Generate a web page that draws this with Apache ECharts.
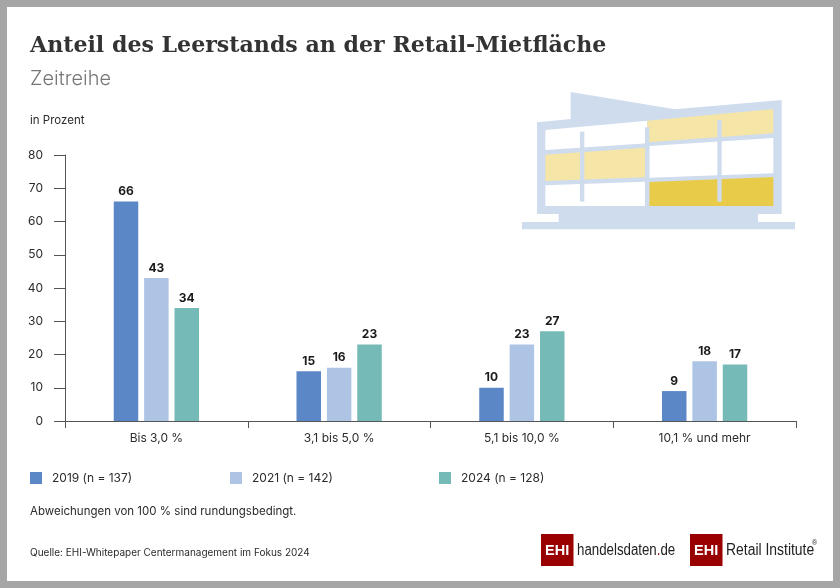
<!DOCTYPE html>
<html lang="de">
<head>
<meta charset="UTF-8">
<title>Anteil des Leerstands an der Retail-Mietfläche</title>
<script src="https://cdn.jsdelivr.net/npm/echarts@6/dist/echarts.min.js"></script>
<style>
  html, body { margin: 0; padding: 0; background: #fff; }
  #main { width: 840px; height: 588px; }
</style>
</head>
<body>
<div id="main"></div>
<script>
var categories = ['Bis 3,0 %', '3,1 bis 5,0 %', '5,1 bis 10,0 %', '10,1 % und mehr'];
var seriesNames = ['2019 (n = 137)', '2021 (n = 142)', '2024 (n = 128)'];
var values2019 = [66, 15, 10, 9];
var values2021 = [43, 16, 23, 18];
var values2024 = [34, 23, 27, 17];
var colors = ['#5b87c7', '#adc4e5', '#76bab7'];

var bodyFont = 'Inter, sans-serif';
var textColor = '#2b2b2b';

function barSeries(i, values) {
  return {
    name: seriesNames[i],
    type: 'bar',
    data: values,
    barWidth: 24.5,
    barGap: '24%',
    itemStyle: { color: colors[i] },
    label: { show: true, position: 'top', distance: 4, fontFamily: bodyFont, fontSize: 12, fontWeight: 'bold', color: '#1a1a1a' }
  };
}

function legendAt(i, left) {
  return {
    data: [seriesNames[i]],
    left: left,
    top: 472,
    padding: 0,
    itemWidth: 12,
    itemHeight: 12,
    itemGap: 0,
    icon: 'rect',
    selectedMode: false,
    textStyle: { fontFamily: bodyFont, fontSize: 12, color: textColor, padding: [0, 0, 0, 5] }
  };
}

// Gebaeude-Skizze, Koordinaten aus dem Ausschnitt (3-fach) umgerechnet
function poly(points, fill) {
  return {
    type: 'polygon',
    shape: { points: points.map(function (p) { return [510 + p[0] / 3, 80 + p[1] / 3]; }) },
    style: { fill: fill }
  };
}
var blue = '#cfdcee', pale = '#f5e5a6', gold = '#e9cb4a';
var building = [
  poly([[81,127],[182,117],[182,36],[495,88],[815,60],[815,402],[744,402],[744,426],[855,426],[855,448],[36,448],[36,426],[146,426],[146,402],[81,402]], blue),
  poly([[106,150],[412,122],[412,190],[106,210]], '#fff'),
  poly([[412,122],[790,87],[790,160],[412,187]], pale),
  poly([[106,224],[405,203],[405,292],[106,303]], pale),
  poly([[418,198],[790,174],[790,280],[418,293]], '#fff'),
  poly([[106,316],[405,305],[405,378],[106,378]], '#fff'),
  poly([[418,306],[790,291],[790,378],[418,378]], gold),
  poly([[210,155],[223,155],[223,365],[210,365]], blue),
  poly([[405,142],[418,142],[418,365],[405,365]], blue),
  poly([[622,120],[635,120],[635,365],[622,365]], blue)
];

function plainText(x, y, text, size) {
  return { type: 'text', x: x, y: y, style: { text: text, fontFamily: bodyFont, fontSize: size, fill: textColor, textVerticalAlign: 'middle' } };
}

function logoBox(x) {
  return [
    { type: 'rect', shape: { x: x, y: 534, width: 32.5, height: 32 }, style: { fill: '#990000' } },
    { type: 'text', x: x + 16.2, y: 551, style: { text: 'EHI', fontFamily: 'Liberation Sans, sans-serif', fontWeight: 'bold', fontSize: 14.5, fill: '#fff', textAlign: 'center', textVerticalAlign: 'middle' } }
  ];
}

var logoFont = '"Liberation Sans", sans-serif';

var graphics = [
  { type: 'rect', shape: { x: 3.5, y: 3.5, width: 833, height: 581 }, style: { fill: 'none', stroke: '#a6a6a6', lineWidth: 7 } },
  plainText(30, 121, 'in Prozent', 11.5),
  plainText(30, 512, 'Abweichungen von 100 % sind rundungsbedingt.', 11.5),
  plainText(30, 553, 'Quelle: EHI-Whitepaper Centermanagement im Fokus 2024', 10),
  {
    type: 'text', x: 577, y: 551, scaleX: 0.83,
    style: {
      text: '{a|handelsdaten}{b|.}{a|de}',
      textVerticalAlign: 'middle',
      rich: {
        a: { fontFamily: logoFont, fontSize: 16, fill: '#222', color: '#222' },
        b: { fontFamily: logoFont, fontSize: 16, fill: '#990000', color: '#990000' }
      }
    }
  },
  { type: 'text', x: 726, y: 551, scaleX: 0.87, style: { text: 'Retail Institute', fontFamily: logoFont, fontSize: 16, fill: '#222', textVerticalAlign: 'middle' } },
  { type: 'text', x: 812, y: 543, style: { text: '®', fontFamily: logoFont, fontSize: 7, fill: '#222', textVerticalAlign: 'middle' } }
].concat(building, logoBox(541), logoBox(690));

var chart = echarts.init(document.getElementById('main'));
chart.setOption({
  animation: false,
  backgroundColor: '#fff',
  title: {
    text: 'Anteil des Leerstands an der Retail-Mietfläche',
    subtext: 'Zeitreihe',
    left: 30,
    top: 35,
    padding: 0,
    itemGap: 12,
    textStyle: { fontFamily: '"DejaVu Serif", serif', fontWeight: 'bold', fontSize: 22.1, color: '#333' },
    subtextStyle: { fontFamily: bodyFont, fontWeight: 300, fontSize: 20, color: '#777' }
  },
  legend: [legendAt(0, 30), legendAt(1, 230), legendAt(2, 439)],
  grid: { left: 65, right: 44, top: 155, bottom: 167 },
  xAxis: {
    type: 'category',
    data: categories,
    axisLine: { lineStyle: { color: '#555', width: 1 } },
    axisTick: { show: true, length: 7, lineStyle: { color: '#555' } },
    axisLabel: { fontFamily: bodyFont, fontSize: 12, color: textColor, margin: 11 }
  },
  yAxis: {
    type: 'value',
    min: 0,
    max: 80,
    interval: 10,
    splitLine: { show: false },
    axisLine: { show: true, lineStyle: { color: '#555', width: 1 } },
    axisTick: { show: true, length: 11, lineStyle: { color: '#555' } },
    axisLabel: { fontFamily: bodyFont, fontSize: 12, color: textColor, margin: 22 }
  },
  series: [barSeries(0, values2019), barSeries(1, values2021), barSeries(2, values2024)],
  graphic: graphics
});
</script>
</body>
</html>
